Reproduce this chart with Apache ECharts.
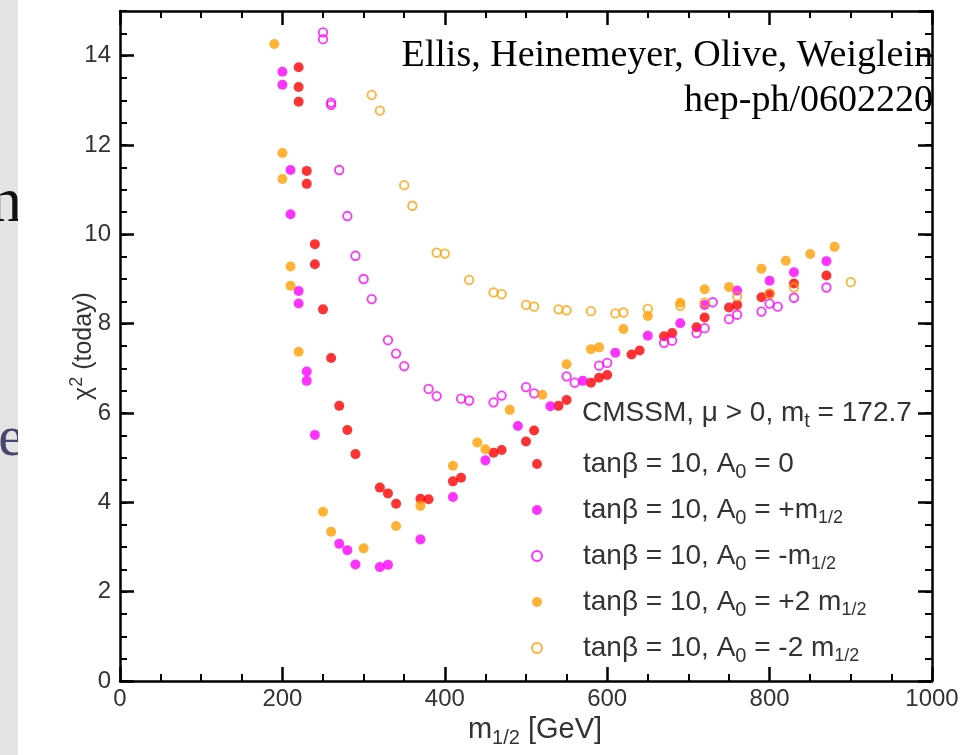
<!DOCTYPE html>
<html><head><meta charset="utf-8">
<script src="https://cdn.jsdelivr.net/npm/echarts@6/dist/echarts.min.js"></script>
<style>html,body{margin:0;padding:0;background:#fff}#c{width:976px;height:755px}</style>
</head><body><div id="c"></div>
<script>
// ---- data (m1/2 [GeV], chi^2) ----
const seriesNames = ['A0 = 0', 'A0 = +m1/2', 'A0 = -m1/2', 'A0 = +2 m1/2', 'A0 = -2 m1/2'];
const legendLabels = [
  'tanβ = 10, A{s|0} = 0',
  'tanβ = 10, A{s|0} = +m{h|1/2}',
  'tanβ = 10, A{s|0} = -m{h|1/2}',
  'tanβ = 10, A{s|0} = +2 m{h|1/2}',
  'tanβ = 10, A{s|0} = -2 m{h|1/2}'
];
const dataA0zero = [[220,13.74],[220,13.30],[220,12.97],[230,11.42],[230,11.13],[240,9.78],[240,9.33],[250,8.32],[260,7.23],[270,6.16],[280,5.62],[290,5.08],[320,4.33],[330,4.20],[340,3.97],[370,4.08],[380,4.07],[410,4.47],[420,4.55],[460,5.11],[470,5.17],[500,5.36],[510,5.61],[540,6.16],[550,6.29],[580,6.68],[590,6.79],[600,6.85],[630,7.31],[640,7.40],[670,7.72],[680,7.79],[710,7.92],[720,8.14],[750,8.36],[760,8.42],[790,8.59],[800,8.67],[830,8.90],[870,9.08]];
const dataA0plus = [[200,13.64],[200,13.35],[210,11.44],[210,10.45],[220,8.73],[220,8.45],[230,6.93],[230,6.72],[240,5.51],[270,3.07],[280,2.93],[290,2.61],[320,2.55],[330,2.60],[370,3.17],[410,4.12],[450,4.94],[490,5.71],[530,6.15],[570,6.72],[610,7.35],[650,7.73],[690,8.01],[720,8.42],[760,8.74],[800,8.96],[830,9.15],[870,9.40]];
const dataA0minus = [[250,14.52],[250,14.37],[260,12.95],[260,12.90],[270,11.44],[280,10.41],[290,9.52],[300,9.00],[310,8.55],[330,7.63],[340,7.33],[350,7.05],[380,6.54],[390,6.38],[420,6.32],[430,6.28],[460,6.24],[470,6.39],[500,6.58],[510,6.44],[550,6.82],[560,6.68],[590,7.06],[600,7.12],[670,7.57],[680,7.62],[710,7.79],[720,7.90],[730,8.48],[750,8.10],[760,8.20],[790,8.27],[800,8.45],[810,8.38],[830,8.58],[870,8.81]];
const dataA0plus2 = [[190,14.26],[200,11.82],[200,11.24],[210,9.28],[210,8.85],[220,7.37],[250,3.79],[260,3.34],[300,2.97],[340,3.47],[370,3.92],[410,4.82],[440,5.34],[450,5.19],[480,6.07],[520,6.41],[550,7.09],[580,7.43],[590,7.47],[620,7.88],[650,8.17],[690,8.47],[720,8.77],[750,8.82],[790,9.23],[820,9.41],[850,9.56],[880,9.72]];
const dataA0minus2 = [[310,13.12],[320,12.77],[350,11.10],[360,10.64],[390,9.59],[400,9.57],[430,8.98],[460,8.70],[470,8.66],[500,8.42],[510,8.38],[540,8.32],[550,8.30],[580,8.28],[610,8.23],[620,8.25],[650,8.33],[690,8.40],[720,8.47],[760,8.61],[800,8.67],[830,8.81],[900,8.93]];
const xRange = [0, 1000], xMajor = 200, xMinorSplit = 4;
const yRange = [0, 15], yMajor = 2, yMinor = 0.5;

const SANS = '"Liberation Sans", Arial, Helvetica, sans-serif';
const SERIF = '"Liberation Serif", "Times New Roman", serif';
const RED = '#ff0000', MAG = '#ff00ff', ORA = '#ff9f00';

const chart = echarts.init(document.getElementById('c'), null, {renderer: 'canvas'});

function xAx(pos, showLabel) {
  const a = {
    type: 'value', min: xRange[0], max: xRange[1], interval: xMajor, position: pos,
    axisLine: {show: true, onZero: false, lineStyle: {color: '#000', width: 2.5}},
    axisTick: {show: true, inside: true, length: 14, lineStyle: {color: '#000', width: 2.5}},
    minorTick: {show: true, splitNumber: xMinorSplit, length: 7, lineStyle: {color: '#000', width: 2}},
    axisLabel: {show: showLabel, margin: 6, fontSize: 24, color: '#333', fontFamily: SANS,
      formatter: function (v) { return String(v); }},
    splitLine: {show: false}, minorSplitLine: {show: false}
  };
  if (showLabel) {
    a.name = 'm{h|1/2} [GeV]';
    a.nameLocation = 'middle';
    a.nameGap = 30;
    a.nameTextStyle = {fontSize: 29, color: '#333', fontFamily: SANS, padding: [0, 0, 0, 18],
      rich: {h: {fontSize: 20, color: '#333', fontFamily: SANS, padding: [16, 0, 0, 0]}}};
  }
  return a;
}
function yAx(pos, interval, major) {
  const a = {
    type: 'value', min: yRange[0], max: yRange[1], interval: interval, position: pos,
    axisLine: {show: major, onZero: false, lineStyle: {color: '#000', width: 2.5}},
    axisTick: {show: true, inside: true, length: major ? 14 : 7, lineStyle: {color: '#000', width: major ? 2.5 : 2}},
    axisLabel: {show: major && pos === 'left', showMaxLabel: false, margin: 9, fontSize: 24, color: '#333', fontFamily: SANS},
    splitLine: {show: false}
  };
  if (major && pos === 'left') {
    a.name = 'χ{p|2} (today)';
    a.nameLocation = 'middle';
    a.nameGap = 20;
    a.nameMoveOverlap = false;
    a.nameRotate = 90;
    a.nameTextStyle = {fontSize: 25, color: '#333', fontFamily: SANS,
      rich: {p: {fontSize: 18, color: '#333', fontFamily: SANS, padding: [0, 0, 14, 0]}}};
  }
  return a;
}

const richLegend = {
  s: {fontSize: 20, color: '#333', fontFamily: SANS, padding: [16, 0, 0, 0]},
  h: {fontSize: 18, color: '#333', fontFamily: SANS, padding: [16, 0, 0, 0]}
};

function sc(i, data, color, open) {
  return {
    type: 'scatter', name: seriesNames[i], data: data, xAxisIndex: 0, yAxisIndex: 0,
    symbol: 'circle', symbolSize: open ? 8.5 : 10, silent: true,
    itemStyle: open ? {color: 'rgba(255,255,255,0)', borderColor: color, borderWidth: 1.8}
                    : {color: color, borderWidth: 0},
    emphasis: {disabled: true}
  };
}

chart.setOption({
  backgroundColor: '#ffffff',
  animation: false,
  grid: {left: 120, right: 44, top: 11, bottom: 74, containLabel: false},
  xAxis: [xAx('bottom', true), xAx('top', false)],
  yAxis: [yAx('left', yMajor, true), yAx('left', yMinor, false), yAx('right', yMajor, true), yAx('right', yMinor, false)],
  legend: {
    orient: 'vertical', left: 526, top: 445, itemWidth: 10, itemHeight: 10, itemGap: 14,
    selectedMode: false, data: seriesNames,
    formatter: function (n) { return legendLabels[seriesNames.indexOf(n)]; },
    textStyle: {fontSize: 28, color: '#333', fontFamily: SANS, padding: [0, 0, 0, 36], rich: richLegend}
  },
  graphic: [
    {type: 'rect', z: 1, shape: {x: 0, y: 0, width: 18, height: 755}, style: {fill: '#e4e4e4'}},
    {type: 'text', z: 2, x: 22, y: 204, style: {text: 'n', fontSize: 64, fontFamily: SERIF, fill: '#111', align: 'right', verticalAlign: 'middle'}},
    {type: 'text', z: 2, x: 24, y: 440, style: {text: 'e', fontSize: 58, fontFamily: SERIF, fill: '#46466e', align: 'right', verticalAlign: 'middle'}},
    {type: 'rect', z: 3, shape: {x: 18, y: 0, width: 22, height: 755}, style: {fill: '#ffffff'}},
    {type: 'text', z: 5, x: 933, y: 56, style: {text: 'Ellis, Heinemeyer, Olive, Weiglein', fontSize: 38, fontFamily: SERIF, fill: '#000', align: 'right', verticalAlign: 'middle'}},
    {type: 'text', z: 5, x: 933, y: 101, style: {text: 'hep-ph/0602220', fontSize: 38, fontFamily: SERIF, fill: '#000', align: 'right', verticalAlign: 'middle'}},
    {type: 'text', z: 5, x: 582, y: 413, style: {text: 'CMSSM, μ > 0, m{s|t} = 172.7', fontSize: 28, fontFamily: SANS, fill: '#333', align: 'left', verticalAlign: 'middle',
      rich: {s: {fontSize: 20, fill: '#333', fontFamily: SANS, padding: [16, 0, 0, 0]}}}}
  ],
  series: [
    sc(0, dataA0zero, RED, false),
    sc(1, dataA0plus, MAG, false),
    sc(2, dataA0minus, MAG, true),
    sc(3, dataA0plus2, ORA, false),
    sc(4, dataA0minus2, ORA, true)
  ]
});
</script></body></html>
